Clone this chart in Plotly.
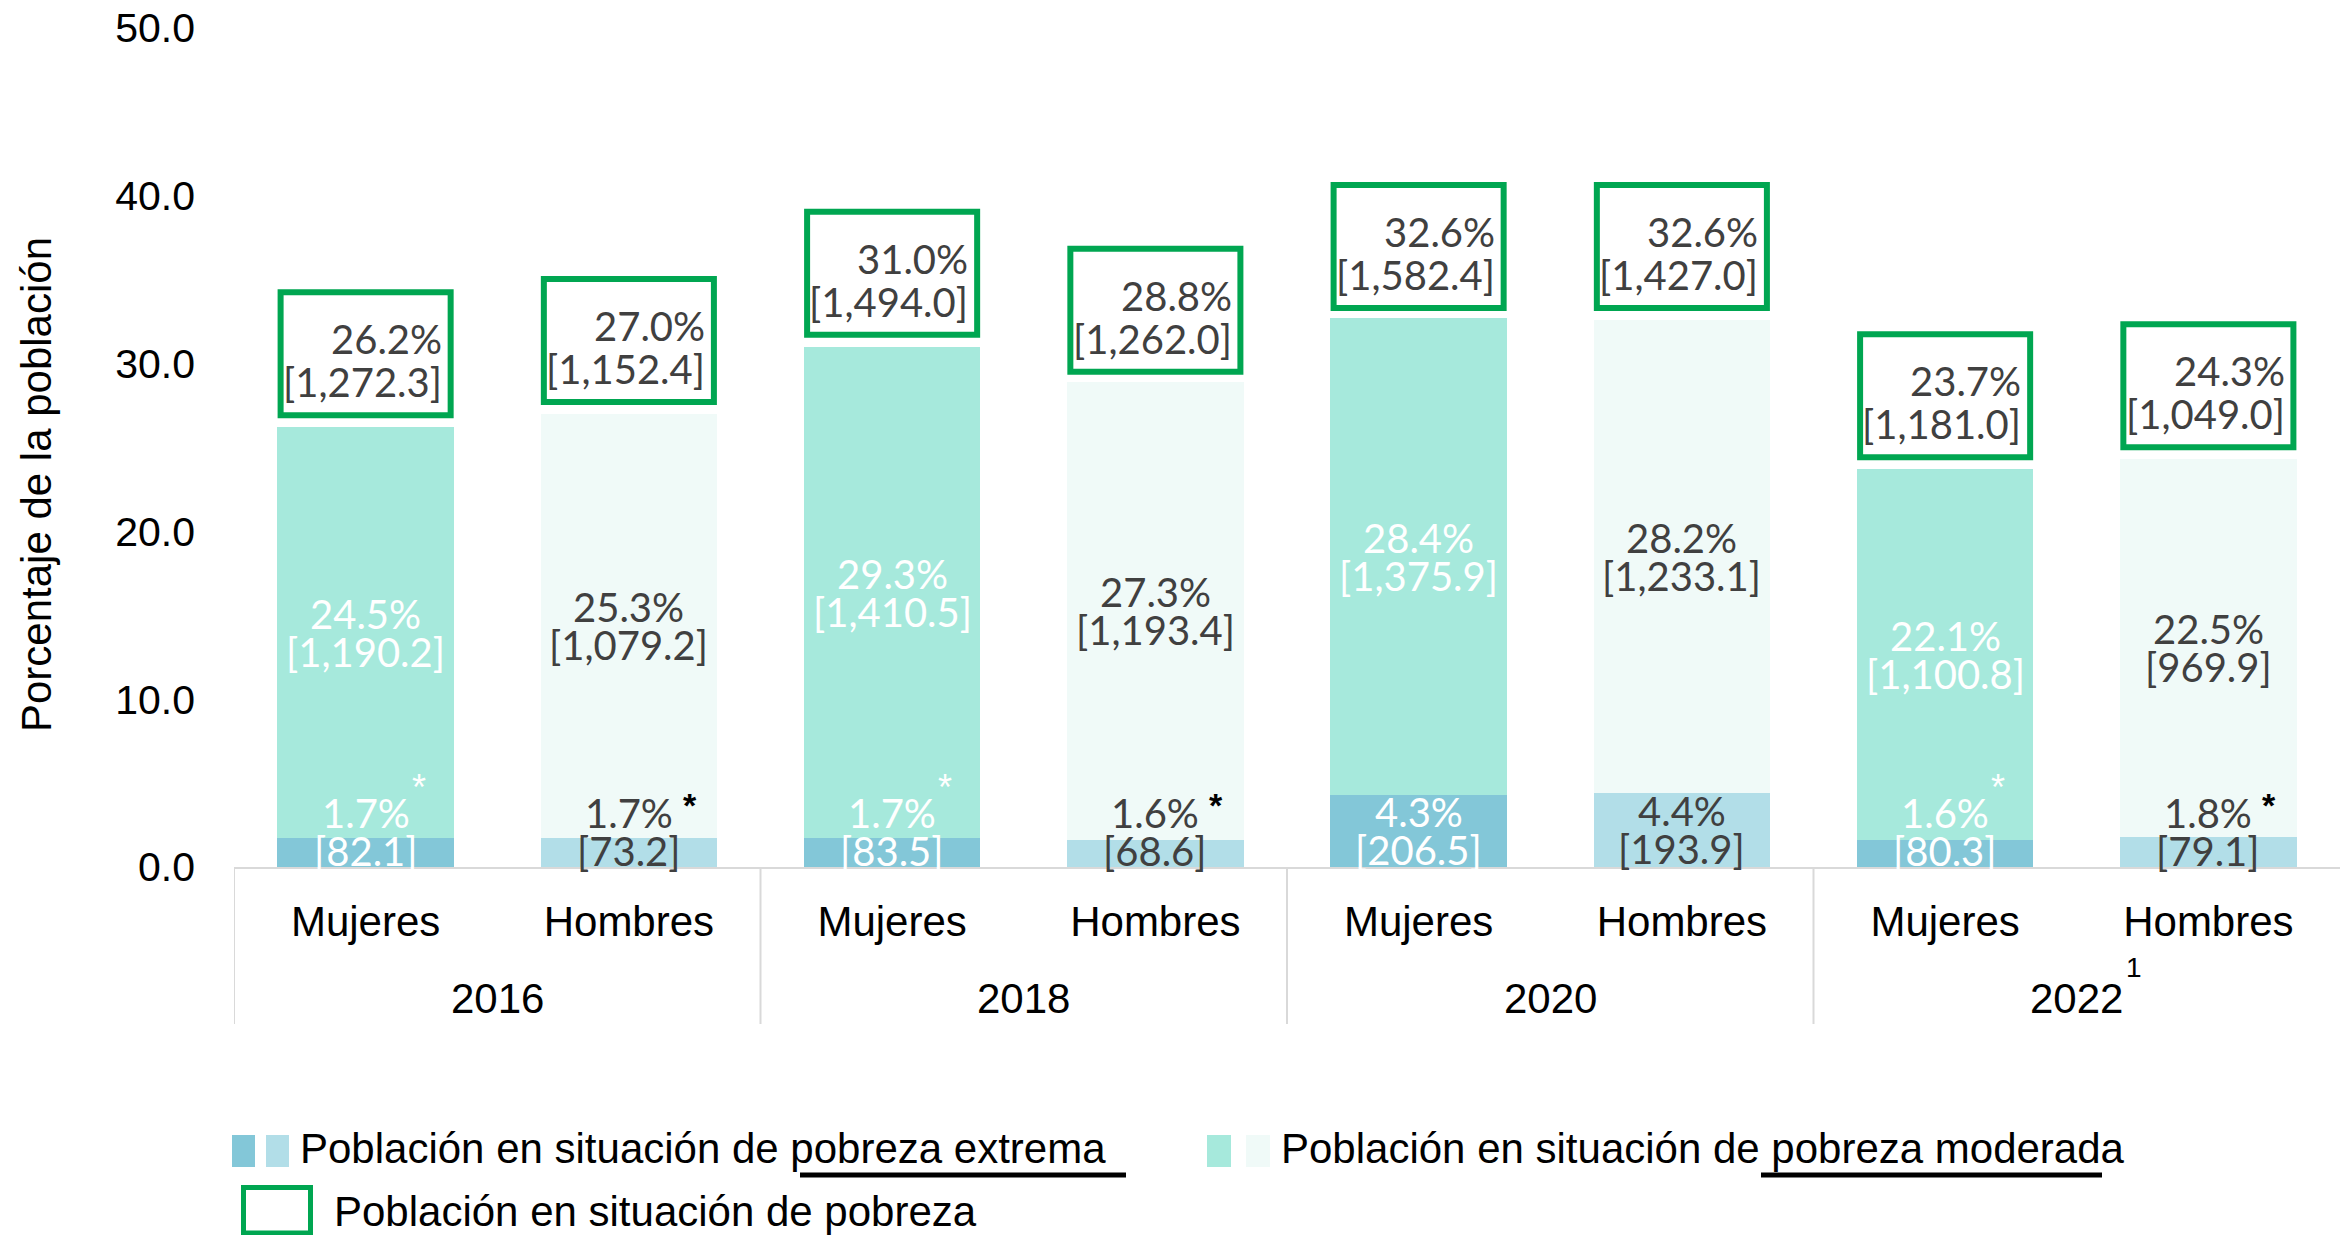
import plotly.graph_objects as go

# ---------------- data ----------------
years = ["2016", "2018", "2020", "2022"]
year_notes = ["", "", "", "1"]
sexes = ["Mujeres", "Hombres"]

extreme_pct = [1.7, 1.7, 1.7, 1.6, 4.3, 4.4, 1.6, 1.8]
extreme_thou = [82.1, 73.2, 83.5, 68.6, 206.5, 193.9, 80.3, 79.1]
extreme_signif = [True, True, True, True, False, False, True, True]
moderate_pct = [24.5, 25.3, 29.3, 27.3, 28.4, 28.2, 22.1, 22.5]
moderate_thou = [1190.2, 1079.2, 1410.5, 1193.4, 1375.9, 1233.1, 1100.8, 969.9]
poverty_pct = [26.2, 27.0, 31.0, 28.8, 32.6, 32.6, 23.7, 24.3]
poverty_thou = [1272.3, 1152.4, 1494.0, 1262.0, 1582.4, 1427.0, 1181.0, 1049.0]

y_ticks = [0, 10, 20, 30, 40, 50]

legend_extreme = "Población en situación de pobreza extrema"
legend_moderate = "Población en situación de pobreza moderada"
legend_poverty = "Población en situación de pobreza"
y_title = "Porcentaje de la población"

# ---------------- style ----------------
W, H = 2340, 1235
ML, MR, MT, MB = 234, 0, 28, 368
PW, PH = W - ML - MR, H - MT - MB

COL_EXT = {"Mujeres": "#83C7D8", "Hombres": "#B2DEE8"}
COL_MOD = {"Mujeres": "#A6E9DC", "Hombres": "#F0FAF8"}
LABEL_COL = {"Mujeres": "#FFFFFF", "Hombres": "#404040"}
STAR_COL = {"Mujeres": "#FFFFFF", "Hombres": "#000000"}
GREEN = "#00A651"
GRID = "#D9D9D9"
AX_FONT = "Arial, Liberation Sans, sans-serif"
LBL_FONT = "Lato, Carlito, Calibri, sans-serif"
LBL_SIZE = 40
BAR_W = 0.67
EXT_MIN_CENTER = 2.1

n = len(extreme_pct)
xs = list(range(n))
sex_of = [sexes[i % 2] for i in xs]


def px_x(p):
    return (p - ML) / PW


def px_y(p):
    return (H - MB - p) / PH


fig = go.Figure()
fig.add_trace(go.Bar(
    x=xs, y=extreme_pct, width=BAR_W,
    marker=dict(color=[COL_EXT[s] for s in sex_of], line=dict(width=0)),
    name=legend_extreme, hoverinfo="skip", showlegend=False,
))
fig.add_trace(go.Bar(
    x=xs, y=moderate_pct, width=BAR_W,
    marker=dict(color=[COL_MOD[s] for s in sex_of], line=dict(width=0)),
    name=legend_moderate, hoverinfo="skip", showlegend=False,
))

ann = []
shapes = []


def lbl(x, y, text, color, yshift=0, xshift=0, xanchor="center", size=LBL_SIZE, family=LBL_FONT):
    return dict(x=x, y=y, xref="x", yref="y", text=text, showarrow=False,
                xanchor=xanchor, yanchor="middle", xshift=xshift, yshift=yshift,
                font=dict(family=family, size=size, color=color))


for i in xs:
    s = sex_of[i]
    c = LABEL_COL[s]
    # moderate label
    ym = extreme_pct[i] + moderate_pct[i] / 2
    ann.append(lbl(i, ym, f"{moderate_pct[i]:.1f}%", c, yshift=19))
    ann.append(lbl(i, ym, f"[{moderate_thou[i]:,.1f}]", c, yshift=-19))
    # extreme label
    ye = max(extreme_pct[i] / 2, EXT_MIN_CENTER)
    ann.append(lbl(i, ye, f"{extreme_pct[i]:.1f}%", c, yshift=19))
    ann.append(lbl(i, ye, f"[{extreme_thou[i]:,.1f}]", c, yshift=-19))
    if extreme_signif[i]:
        if s == "Hombres":
            ann.append(lbl(i, ye, "<b>*</b>", STAR_COL[s], yshift=27, xshift=52,
                           xanchor="left", size=34, family=AX_FONT))
        else:
            ann.append(lbl(i, ye, "*", STAR_COL[s], yshift=44, xshift=44,
                           xanchor="left", size=36, family=AX_FONT))
    # poverty box
    shapes.append(dict(type="rect", xref="x", yref="y",
                       x0=i - BAR_W / 2 + 0.012, x1=i + BAR_W / 2 - 0.012,
                       ysizemode="pixel", yanchor=poverty_pct[i], y0=12, y1=135,
                       line=dict(color=GREEN, width=6), fillcolor="rgba(0,0,0,0)", layer="above"))
    ann.append(lbl(i + BAR_W / 2, poverty_pct[i], f"{poverty_pct[i]:.1f}%", "#404040",
                   yshift=88, xshift=-10, xanchor="right"))
    ann.append(lbl(i + BAR_W / 2, poverty_pct[i], f"[{poverty_thou[i]:,.1f}]", "#404040",
                   yshift=45, xshift=-10, xanchor="right"))

# year group labels and dividers
for k, yr in enumerate(years):
    xc = 2 * k + 0.5
    ann.append(dict(x=xc, y=0, xref="x", yref="paper", text=yr, showarrow=False,
                    xanchor="center", yanchor="middle", yshift=-131,
                    font=dict(family=AX_FONT, size=42, color="#000000")))
    if year_notes[k]:
        ann.append(dict(x=xc, y=0, xref="x", yref="paper", text=year_notes[k], showarrow=False,
                        xanchor="left", yanchor="middle", yshift=-100, xshift=47,
                        font=dict(family=AX_FONT, size=28, color="#000000")))
    shapes.append(dict(type="line", xref="x", yref="paper", x0=2 * k - 0.5, x1=2 * k - 0.5,
                       ysizemode="pixel", yanchor=0, y0=0, y1=-157,
                       line=dict(color=GRID, width=2)))

# y-axis title
ann.append(dict(x=px_x(36), y=px_y(485), xref="paper", yref="paper", text=y_title,
                showarrow=False, textangle=-90, xanchor="center", yanchor="middle",
                font=dict(family=AX_FONT, size=42, color="#000000")))

# ---------------- custom legend ----------------
def rect_px(x0, x1, y0, y1, fill, line=None):
    d = dict(type="rect", xref="paper", yref="paper",
             x0=px_x(x0), x1=px_x(x1), y0=px_y(y1), y1=px_y(y0), layer="above")
    if line:
        d.update(line=dict(color=line, width=5), fillcolor="rgba(0,0,0,0)")
    else:
        d.update(line=dict(width=0), fillcolor=fill)
    return d


shapes.append(rect_px(232, 255, 1135, 1167, COL_EXT["Mujeres"]))
shapes.append(rect_px(266, 289, 1135, 1167, COL_EXT["Hombres"]))
shapes.append(rect_px(1207, 1231, 1135, 1167, COL_MOD["Mujeres"]))
shapes.append(rect_px(1246, 1270, 1135, 1167, COL_MOD["Hombres"]))
shapes.append(rect_px(243.5, 310.5, 1187.5, 1233, None, line=GREEN))
for (a, b) in [(800, 1126), (1761, 2102)]:
    shapes.append(dict(type="line", xref="paper", yref="paper",
                       x0=px_x(a), x1=px_x(b), y0=px_y(1175), y1=px_y(1175),
                       line=dict(color="#000000", width=5)))

for text, x, y in [(legend_extreme, 298, 1148), (legend_moderate, 1279, 1148), (legend_poverty, 332, 1211)]:
    ann.append(dict(x=px_x(x), y=px_y(y), xref="paper", yref="paper", text=text, showarrow=False,
                    xanchor="left", yanchor="middle",
                    font=dict(family=AX_FONT, size=42, color="#000000")))

fig.update_layout(
    width=W, height=H, autosize=False,
    margin=dict(l=ML, r=MR, t=MT, b=MB, pad=0),
    paper_bgcolor="#FFFFFF", plot_bgcolor="#FFFFFF",
    barmode="stack", bargap=0.33,
    showlegend=False,
    annotations=ann, shapes=shapes,
    font=dict(family=AX_FONT, size=42, color="#000000"),
    xaxis=dict(range=[-0.5, n - 0.5], tickmode="array", tickvals=xs, ticktext=sex_of,
               showgrid=False, zeroline=False, showline=True, linecolor=GRID, linewidth=2,
               ticks="", ticklabelstandoff=17,
               tickfont=dict(family=AX_FONT, size=42, color="#000000"), fixedrange=True),
    yaxis=dict(range=[0, 50], tickmode="array", tickvals=y_ticks, tickformat=".1f",
               showgrid=False, zeroline=False, showline=False, ticks="",
               ticklabelstandoff=38,
               tickfont=dict(family=AX_FONT, size=41, color="#000000"), fixedrange=True),
)

fig.write_html(
    "out.html",
    config={"displayModeBar": False},
    post_script="document.body.style.margin='0';document.body.style.overflow='hidden';",
)
